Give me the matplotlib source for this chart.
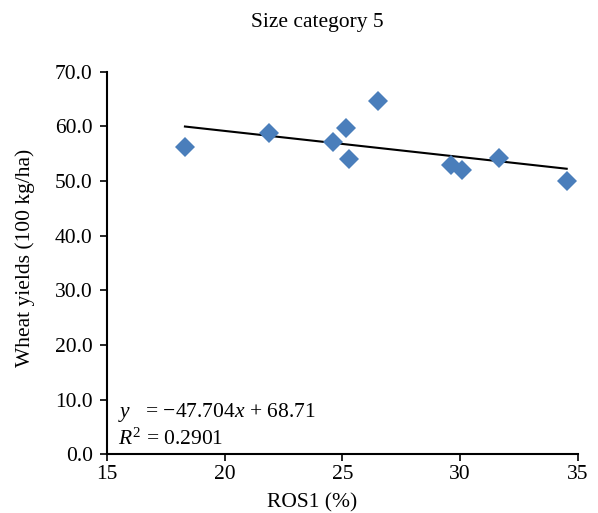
import matplotlib
matplotlib.use("Agg")
import matplotlib.pyplot as plt
import numpy as np

plt.rcParams['font.family'] = ['Liberation Serif', 'DejaVu Serif']
plt.rcParams['mathtext.fontset'] = 'custom'
plt.rcParams['mathtext.rm'] = 'Liberation Serif'
plt.rcParams['mathtext.it'] = 'Liberation Serif:italic'

title = "Size category 5"
xlabel = "ROS1 (%)"
ylabel = "Wheat yields (100 kg/ha)"

ros1 = [18.32, 21.90, 24.59, 25.15, 25.27, 26.51, 29.59, 30.07, 31.63, 34.52]
wheat = [56.16, 58.84, 57.08, 59.70, 54.02, 64.58, 52.93, 52.01, 54.26, 50.06]

slope = -47.704   # per fraction of ROS1
intercept = 68.71
r2 = 0.2901

xticks = [15, 20, 25, 30, 35]
yticks = [0, 10, 20, 30, 40, 50, 60, 70]

FS = 15.5

fig = plt.figure(figsize=(5.98, 5.13), dpi=100)
ax = fig.add_axes([106.7/598, 1-454.3/513, (578-106.7)/598, (454.3-71.7)/513])

ax.plot(ros1, wheat, linestyle='none', marker='D', markersize=10.5,
        color='#4a7ebb', markeredgewidth=0, zorder=3)

xl = np.array([min(ros1), max(ros1)])
ax.plot(xl, intercept + slope * xl / 100.0, color='black', linewidth=1.5, zorder=2)

ax.set_xlim(15, 35)
ax.set_ylim(0, 70)
ax.set_xticks(xticks)
ax.set_yticks(yticks)
ax.set_yticklabels([f"{v:.1f}" for v in yticks])
ax.set_xticklabels([str(v) for v in xticks])

for s in ['top', 'right']:
    ax.spines[s].set_visible(False)
for s in ['left', 'bottom']:
    ax.spines[s].set_linewidth(1.5)
ax.tick_params(axis='both', direction='out', length=5, width=1.2,
               labelsize=FS, colors='black')
ax.tick_params(axis='y', pad=5)
ax.tick_params(axis='x', pad=3)

ax.text(15.48, 6.82, r'$y$   = −47.704$x$ + 68.71', fontsize=FS,
        ha='left', va='baseline')
ax.text(15.48, 1.70, r'$R^{\mathregular{2}}$ = 0.2901', fontsize=FS, ha='left', va='baseline')

fig.text(317/598, 1-27/513, title, ha='center', va='baseline', fontsize=FS)
fig.text(312.5/598, 1-507/513, xlabel, ha='center', va='baseline', fontsize=FS)
fig.text(25/598, 1-258/513, ylabel, ha='center', va='center', rotation=90, fontsize=FS)

fig.savefig("out.png", dpi=100)
